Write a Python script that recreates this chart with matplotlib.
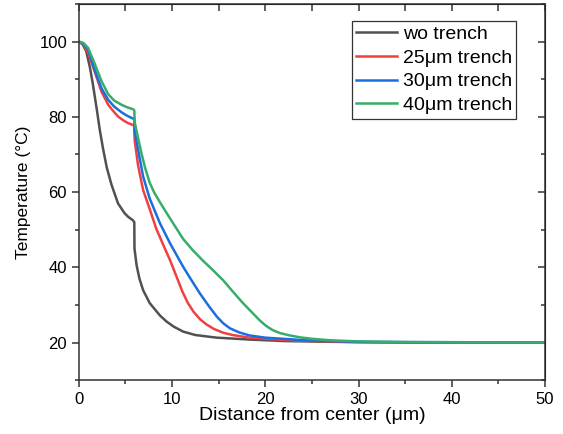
import numpy as np
import matplotlib.pyplot as plt
from matplotlib.ticker import MultipleLocator, NullFormatter

plt.rcParams['font.family'] = ['Liberation Sans', 'DejaVu Sans']

# values
x_wo = [0, 0.4, 0.8, 1.2, 1.5, 1.9, 2.25, 2.6, 3.0, 3.5, 4.2, 4.9, 5.3, 5.8, 5.95, 5.97, 6.2, 6.5, 6.9, 7.6,
        8.7, 9.4, 10.2, 11.2, 12.5, 14.8, 18.3, 22, 27, 35, 50]
t_wo = [100, 99.3, 97.4, 93, 88.8, 82.4, 76.5, 71.5, 66.5, 62, 57, 54.4, 53.4, 52.5, 52, 45, 40.5, 37, 33.9, 30.5,
        27.2, 25.6, 24.2, 22.9, 22, 21.3, 20.8, 20.4, 20.2, 20, 20]

x_25 = [0, 0.5, 1, 1.7, 2.43, 3.15, 3.7, 4.2, 4.8, 5.3, 5.93, 6.0, 6.36, 6.9, 7.6, 8.3, 9.05, 9.8, 10.5, 11.1,
        11.7, 12.3, 13.0, 13.7, 14.5, 15.5, 16.5, 18.3, 21.9, 25, 30, 50]
t_25 = [100, 99.2, 97, 92, 86.7, 83.2, 81.5, 80.1, 79, 78.3, 77.7, 73.5, 67, 60.5, 55.5, 50.3, 46, 41.8, 37.4, 33.6,
        30.5, 28.2, 26.2, 24.8, 23.6, 22.6, 22, 21.3, 20.7, 20.4, 20.1, 20]

x_30 = [0, 0.5, 1, 1.7, 2.43, 3.15, 3.8, 4.58, 5.1, 5.65, 5.95, 6.0, 6.36, 6.9, 7.6, 8.7, 9.8, 11.2, 12.1, 13, 14,
        14.8, 15.5, 16.2, 17.2, 18.3, 20, 21.9, 25, 30, 50]
t_30 = [100, 99.4, 97.8, 92.5, 87.6, 84.5, 82.7, 81.2, 80.4, 79.7, 79.4, 76, 71.2, 64.1, 58.3, 51.7, 46.3, 40.1, 36.5, 33,
        29.5, 26.9, 25.1, 23.8, 22.7, 21.9, 21.3, 21, 20.5, 20.2, 20]

x_40 = [0, 0.5, 1, 1.72, 2.43, 3.15, 3.8, 4.58, 5.2, 5.83, 5.95, 6.0, 6.3, 6.7, 7.1, 7.6, 8.1, 8.7, 9.4, 10.5, 11.2,
        12.2, 13.3, 14.4, 15.5, 16.5, 17.6, 18.5, 19.4, 20.1, 20.8, 21.6, 22.6, 23.7, 25, 27, 30, 35, 50]
t_40 = [100, 99.6, 98.3, 94, 89.5, 86, 84.3, 83.2, 82.5, 82, 81.7, 78.5, 75, 70.5, 66.5, 62.5, 59.8, 57.3, 54.5, 50.2,
        47.5, 44.6, 41.8, 39.2, 36.5, 33.6, 30.5, 28.2, 25.9, 24.4, 23.3, 22.5, 21.9, 21.4, 21, 20.6, 20.3, 20.1, 20]

labels = ['wo trench', '25μm trench', '30μm trench', '40μm trench']
colors = ['#515151', '#F14040', '#1A6FDF', '#37AD6B']

fig = plt.figure(figsize=(5.63, 4.34), dpi=100)
ax = fig.add_axes([0.140, 0.124, 0.828, 0.867])

for xs, ts, lab, c in zip([x_wo, x_25, x_30, x_40], [t_wo, t_25, t_30, t_40], labels, colors):
    ax.plot(xs, ts, color=c, lw=1.8, label=lab, solid_joinstyle='round')

ax.set_xlim(0, 50)
ax.set_ylim(10, 110)
ax.xaxis.set_major_locator(MultipleLocator(10))
ax.xaxis.set_minor_locator(MultipleLocator(5))
ax.yaxis.set_major_locator(MultipleLocator(20))
ax.yaxis.set_minor_locator(MultipleLocator(10))
ax.tick_params(which='both', direction='out', width=1.1, labelsize=12, color='#333333')
ax.tick_params(which='major', length=5)
ax.tick_params(which='minor', length=3)
for s in ax.spines.values():
    s.set_linewidth(1.1)
    s.set_color('#333333')

# mirrored ticks point inward on top and right
top = ax.secondary_xaxis('top')
top.xaxis.set_major_locator(MultipleLocator(5))
top.xaxis.set_major_formatter(NullFormatter())
top.tick_params(direction='in', length=5, width=1.1, color='#333333')
right = ax.secondary_yaxis('right')
right.yaxis.set_major_locator(MultipleLocator(20))
right.yaxis.set_minor_locator(MultipleLocator(10))
right.yaxis.set_major_formatter(NullFormatter())
right.tick_params(which='both', direction='in', width=1.1, color='#333333')
right.tick_params(which='major', length=5)
right.tick_params(which='minor', length=3)

ax.set_xlabel('Distance from center (μm)', fontsize=14, labelpad=0)
ax.set_ylabel('Temperature (°C)', fontsize=12.5, labelpad=6)

leg = ax.legend(loc='upper right', bbox_to_anchor=(0.938, 0.955), fontsize=14, fancybox=False,
                edgecolor='#333333', framealpha=1, borderpad=0.22, labelspacing=0.32,
                handlelength=2.1, handletextpad=0.3, borderaxespad=0)
leg.get_frame().set_linewidth(0.9)

plt.savefig('out.png')
